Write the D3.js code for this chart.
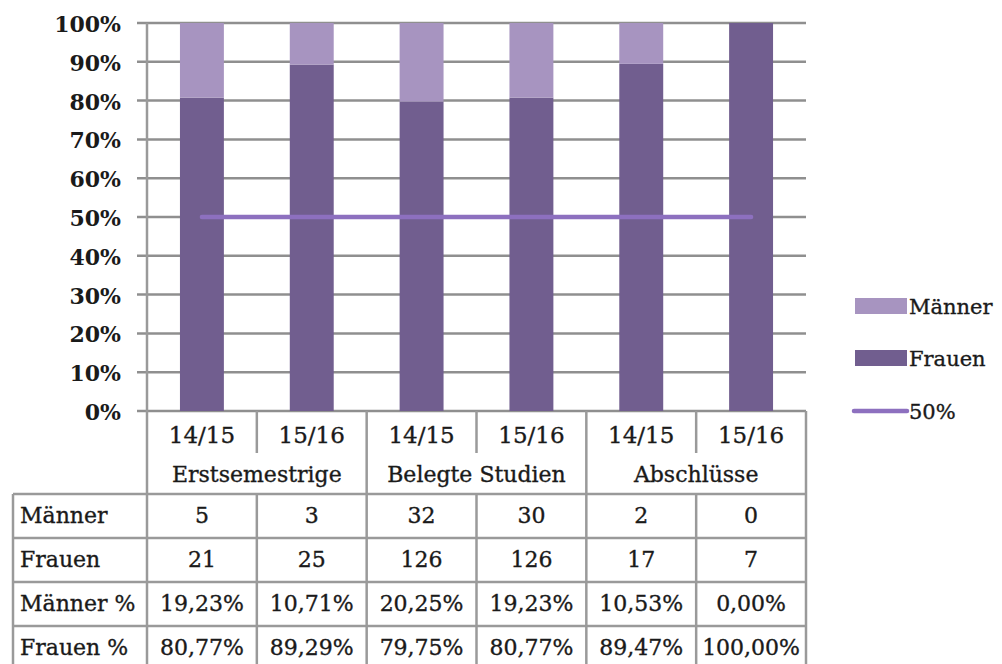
<!DOCTYPE html>
<html lang="de">
<head>
<meta charset="UTF-8">
<title>Männer / Frauen</title>
<script src="https://d3js.org/d3.v7.min.js"></script>
<style>
  html, body { margin: 0; padding: 0; background: #fff; }
  svg text { font-family: "DejaVu Serif", serif; fill: #1a1a1a; }
  svg text.t { stroke: #1a1a1a; stroke-width: 0.35px; }
</style>
</head>
<body>
<svg id="chart" width="1002" height="664"></svg>
<script>
// data
var years = ["14/15", "15/16", "14/15", "15/16", "14/15", "15/16"];
var groups = ["Erstsemestrige", "Belegte Studien", "Abschlüsse"];
var maenner = [5, 3, 32, 30, 2, 0];
var frauen = [21, 25, 126, 126, 17, 7];
var maennerPct = [19.23, 10.71, 20.25, 19.23, 10.53, 0.00];
var frauenPct = [80.77, 89.29, 79.75, 80.77, 89.47, 100.00];
var refLine = [50, 50, 50, 50, 50, 50];
var yTicks = [0, 10, 20, 30, 40, 50, 60, 70, 80, 90, 100];

var colM = "#a794c0", colF = "#715e8f", colLine = "#8d70bf", grid = "#8f8f8f", tbl = "#9a9a9a";

var svg = d3.select("#chart");

var x = d3.scaleBand().domain(d3.range(years.length)).range([147, 806]).padding(0);
var y = d3.scaleLinear().domain([0, 100]).range([411, 23]);
var bw = x.bandwidth();

// gridlines + ticks
svg.append("g").selectAll("line").data(yTicks).enter().append("line")
  .attr("x1", 137).attr("x2", 806)
  .attr("y1", function(d){ return y(d); }).attr("y2", function(d){ return y(d); })
  .attr("stroke", grid).attr("stroke-width", 2.5);

// y labels
svg.append("g").selectAll("text").data(yTicks).enter().append("text")
  .attr("x", 121).attr("y", function(d){ return y(d) + 3; })
  .attr("text-anchor", "end").attr("dominant-baseline", "middle")
  .style("font-size", "22px").style("font-weight", "bold")
  .text(function(d){ return d + "%"; });

// stacked bars
var bars = svg.append("g");
bars.selectAll("rect.f").data(frauenPct).enter().append("rect")
  .attr("x", function(d, i){ return x(i) + bw * 0.3; })
  .attr("width", bw * 0.4)
  .attr("y", function(d){ return y(d); })
  .attr("height", function(d){ return y(0) - y(d); })
  .attr("fill", colF);
bars.selectAll("rect.m").data(maennerPct).enter().append("rect")
  .attr("x", function(d, i){ return x(i) + bw * 0.3; })
  .attr("width", bw * 0.4)
  .attr("y", function(d, i){ return y(frauenPct[i] + d); })
  .attr("height", function(d){ return y(0) - y(d); })
  .attr("fill", colM);

// 50% line
svg.append("path")
  .datum(refLine)
  .attr("d", d3.line().x(function(d, i){ return x(i) + bw / 2; }).y(function(d){ return y(d); }))
  .attr("fill", "none").attr("stroke", colLine).attr("stroke-width", 4.5).attr("stroke-linecap", "round");

// axis line
svg.append("line").attr("x1", 147).attr("x2", 147).attr("y1", y(100)).attr("y2", 664)
  .attr("stroke", tbl).attr("stroke-width", 2.5);

// header: years + groups
var hTop = 411, hMid = 453, hBot = 494;
var rowH = 44;
var tLeft = 13, tRight = 806;

svg.append("g").selectAll("text").data(years).enter().append("text")
  .attr("class", "t")
  .attr("x", function(d, i){ return x(i) + bw / 2; }).attr("y", 437)
  .attr("text-anchor", "middle").attr("dominant-baseline", "middle")
  .style("font-size", "23px").text(function(d){ return d; });

svg.append("g").selectAll("text").data(groups).enter().append("text")
  .attr("class", "t")
  .attr("x", function(d, i){ return x(i * 2) + bw; }).attr("y", 476)
  .attr("text-anchor", "middle").attr("dominant-baseline", "middle")
  .style("font-size", "22px").text(function(d){ return d; });

// header verticals
var g = svg.append("g").attr("stroke", tbl).attr("stroke-width", 2.5);
d3.range(years.length + 1).forEach(function(i){
  var xx = i === years.length ? tRight : x(i);
  var bottom = (i % 2 === 1) ? hMid : hBot;
  if (i > 0) g.append("line").attr("x1", xx).attr("x2", xx).attr("y1", hTop).attr("y2", bottom);
});

// table rows
var rows = [
  { label: "Männer", vals: maenner.map(String) },
  { label: "Frauen", vals: frauen.map(String) },
  { label: "Männer %", vals: maennerPct.map(function(v){ return v.toFixed(2).replace(".", ",") + "%"; }) },
  { label: "Frauen %", vals: frauenPct.map(function(v){ return v.toFixed(2).replace(".", ",") + "%"; }) }
];

d3.range(rows.length + 1).forEach(function(r){
  g.append("line").attr("x1", tLeft).attr("x2", tRight)
    .attr("y1", hBot + r * rowH).attr("y2", hBot + r * rowH);
});
[tLeft].concat(d3.range(1, years.length).map(function(i){ return x(i); })).concat([tRight]).forEach(function(xx){
  g.append("line").attr("x1", xx).attr("x2", xx).attr("y1", hBot).attr("y2", hBot + rows.length * rowH);
});

rows.forEach(function(row, r){
  var cy = hBot + r * rowH + rowH / 2 + 1;
  svg.append("text").attr("class", "t").attr("x", 20).attr("y", cy).attr("dominant-baseline", "middle")
    .style("font-size", "22px").text(row.label);
  svg.append("g").selectAll("text").data(row.vals).enter().append("text")
    .attr("class", "t")
    .attr("x", function(d, i){ return x(i) + bw / 2; }).attr("y", cy)
    .attr("text-anchor", "middle").attr("dominant-baseline", "middle")
    .style("font-size", "22px").text(function(d){ return d; });
});

// legend
var leg = svg.append("g");
var legItems = [
  { name: "Männer", type: "rect", color: colM, cy: 306 },
  { name: "Frauen", type: "rect", color: colF, cy: 358 },
  { name: "50%", type: "line", color: colLine, cy: 411 }
];
legItems.forEach(function(d){
  if (d.type === "rect") {
    leg.append("rect").attr("x", 855).attr("y", d.cy - 8).attr("width", 52).attr("height", 16).attr("fill", d.color);
  } else {
    leg.append("line").attr("x1", 854).attr("x2", 907).attr("y1", d.cy).attr("y2", d.cy)
      .attr("stroke", d.color).attr("stroke-width", 4.5).attr("stroke-linecap", "round");
  }
  leg.append("text").attr("class", "t").attr("x", 909).attr("y", d.cy + 2).attr("dominant-baseline", "middle")
    .style("font-size", "21px").text(d.name);
});
</script>
</body>
</html>
